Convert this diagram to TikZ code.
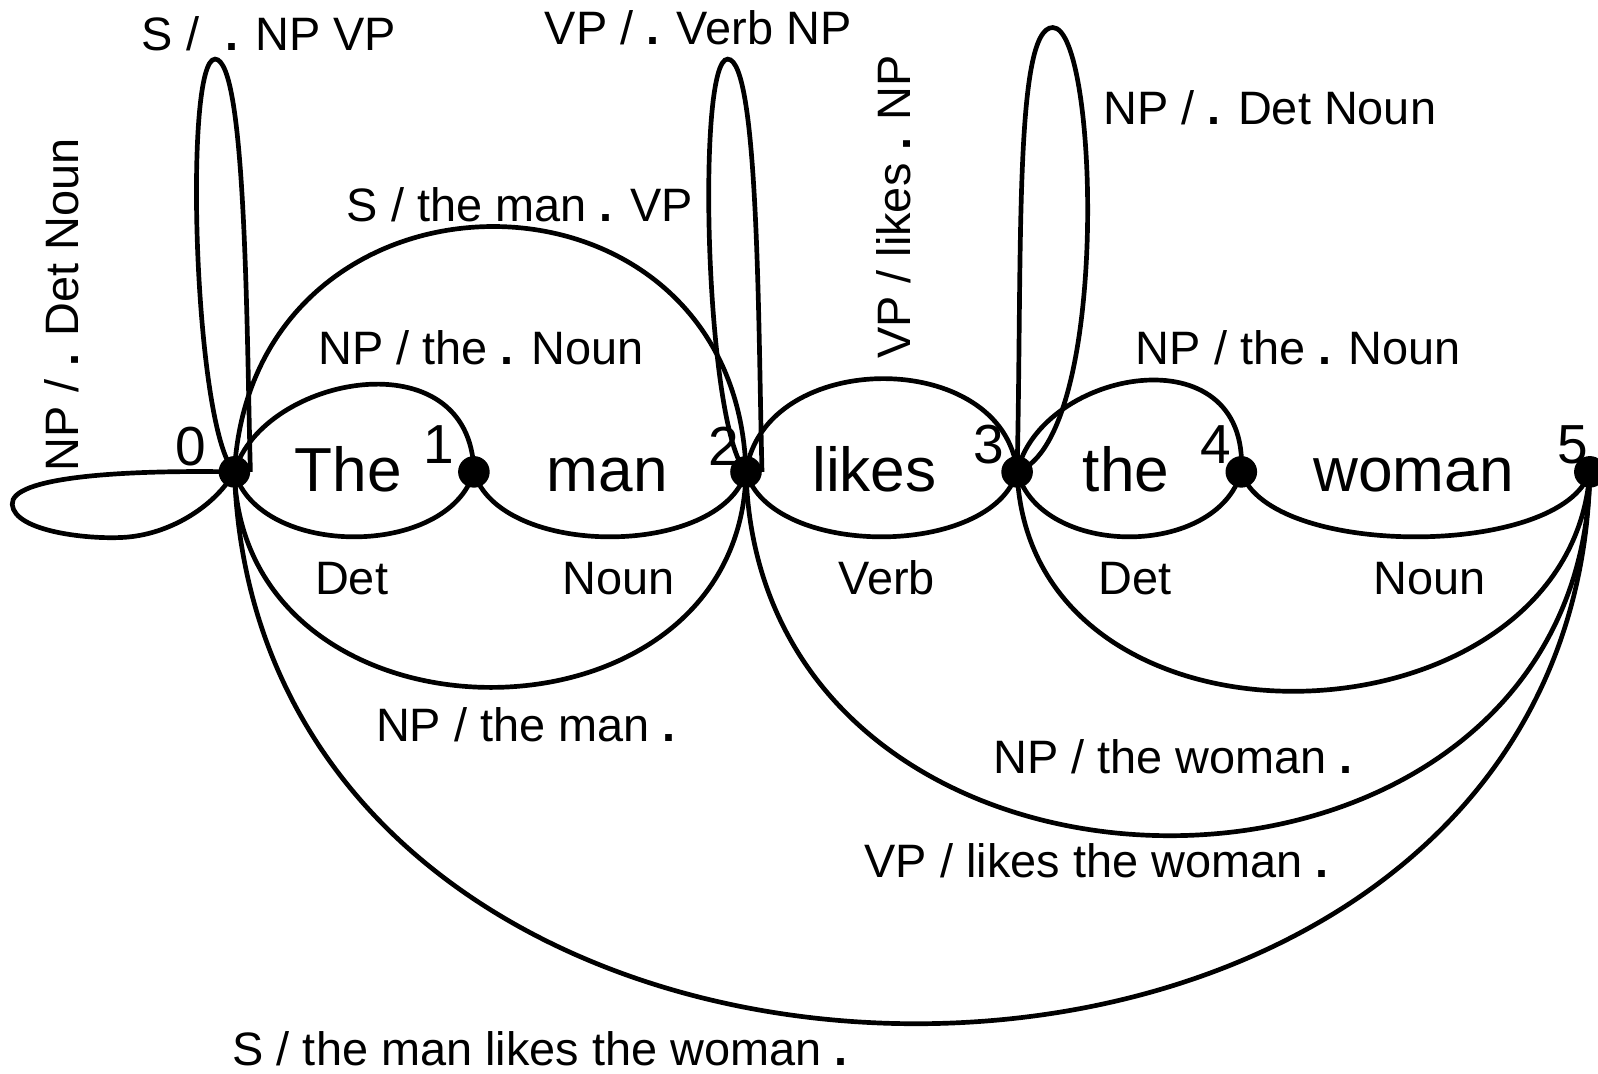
\documentclass[tikz,border=0pt]{standalone}
\usepackage{fontspec}
\setmainfont{Liberation Sans}
\pgfdeclarelayer{bg}
\pgfsetlayers{bg,main}
\newcommand{\bdot}{\textbf{.}}
\begin{document}
\begin{tikzpicture}[x=1pt,y=-1pt,
  dot/.style={circle,fill=black,inner sep=0pt,minimum size=31pt},
  lab/.style={font=\fontsize{46}{50}\selectfont,inner sep=0pt,anchor=base},
  word/.style={font=\fontsize{61}{66}\selectfont,inner sep=0pt,anchor=base},
  num/.style={font=\fontsize{54}{60}\selectfont,inner sep=0pt,anchor=base},
  edge/.style={line width=4.6pt,draw=black}]
\useasboundingbox (0,0) rectangle (1568,1053);

% chart vertices
\node[dot] (n0) at (230,463) {};
\node[dot] (n1) at (465,463) {};
\node[dot] (n2) at (732,463) {};
\node[dot] (n3) at (998,463) {};
\node[dot] (n4) at (1218,463) {};
\node[dot] (n5) at (1560,463) {};

% vertex numbers
\node[num] (d0) at (187,457) {0};
\node[num] (d1) at (431,455) {1};
\node[num] (d2) at (710,457) {2};
\node[num] (d3) at (970,455) {3};
\node[num] (d4) at (1193,455) {4};
\node[num] (d5) at (1543,455) {5};

% words
\node[word] (w1) at (342,482) {The};
\node[word] (w2) at (596,482) {man};
\node[word] (w3) at (858,482) {likes};
\node[word] (w4) at (1105,482) {the};
\node[word] (w5) at (1387,482) {woman};

% edge labels
\node[lab] (l1) at (264,50) {S / \ \bdot{} NP VP};
\node[lab] (l2) at (685,44) {VP / \bdot{} Verb NP};
\node[lab] (l3) at (1246,122) {NP / \bdot{} Det Noun};
\node[lab] (l4) at (510,217) {S / the man \bdot{} VP};
\node[lab] (l5) at (472,358) {NP / the \bdot{} Noun};
\node[lab] (l6) at (1274,358) {NP / the \bdot{} Noun};
\node[lab,rotate=90] (l7) at (893,203) {VP / likes \bdot{} NP};
\node[lab,rotate=90] (l8) at (77,299) {NP / \bdot{} Det Noun};
\node[lab] (l9) at (345,583) {Det};
\node[lab] (l10) at (607,583) {Noun};
\node[lab] (l11) at (870,583) {Verb};
\node[lab] (l12) at (1114,583) {Det};
\node[lab] (l13) at (1403,583) {Noun};
\node[lab] (l14) at (516,728) {NP / the man \bdot};
\node[lab] (l15) at (1151,759) {NP / the woman \bdot};
\node[lab] (l16) at (1076,861) {VP / likes the woman \bdot};
\node[lab] (l17) at (530,1045) {S / the man likes the woman \bdot};

\begin{pgfonlayer}{bg}
% self loops
\draw[edge] (n0.center) .. controls (120,461) and (10,468) .. (12,495)
  .. controls (14,522) and (90,530) .. (125,527)
  .. controls (170,523) and (212,495) .. (n0.center);
\draw[edge] (n0.center) .. controls (190,420) and (180,58) .. (211,58)
  .. controls (242,58) and (242,330) .. (n0.east);
\draw[edge] (n2.center) .. controls (692,420) and (683,58) .. (714,58)
  .. controls (745,58) and (744,330) .. (n2.east);
\draw[edge] (n3.center) .. controls (1003,250) and (995,27) .. (1033,27)
  .. controls (1078,27) and (1090,430) .. (n3.center);
% upper arcs
\draw[edge] (n0.center) .. controls (248,142) and (722,142) .. (n2.center);
\draw[edge] (n0.center) .. controls (258,368) and (462,330) .. (n1.center);
\draw[edge] (n2.center) .. controls (750,341) and (985,341) .. (n3.center);
\draw[edge] (n3.center) .. controls (1022,362) and (1226,325) .. (n4.center);
% lower arcs
\draw[edge] (n0.center) .. controls (255,548) and (440,548) .. (n1.center);
\draw[edge] (n1.center) .. controls (490,548) and (707,548) .. (n2.center);
\draw[edge] (n2.center) .. controls (757,548) and (973,548) .. (n3.center);
\draw[edge] (n3.center) .. controls (1022,548) and (1194,548) .. (n4.center);
\draw[edge] (n4.center) .. controls (1245,548) and (1533,548) .. (n5.center);
\draw[edge] (n0.center) .. controls (238,745) and (726,745) .. (n2.center);
\draw[edge] (n3.center) .. controls (1010,760) and (1540,740) .. (n5.center);
\draw[edge] (n2.center) .. controls (745,939) and (1552,939) .. (n5.center);
\draw[edge] (n0.center) .. controls (255,1185) and (1545,1185) .. (n5.center);
\end{pgfonlayer}
\end{tikzpicture}
\end{document}
